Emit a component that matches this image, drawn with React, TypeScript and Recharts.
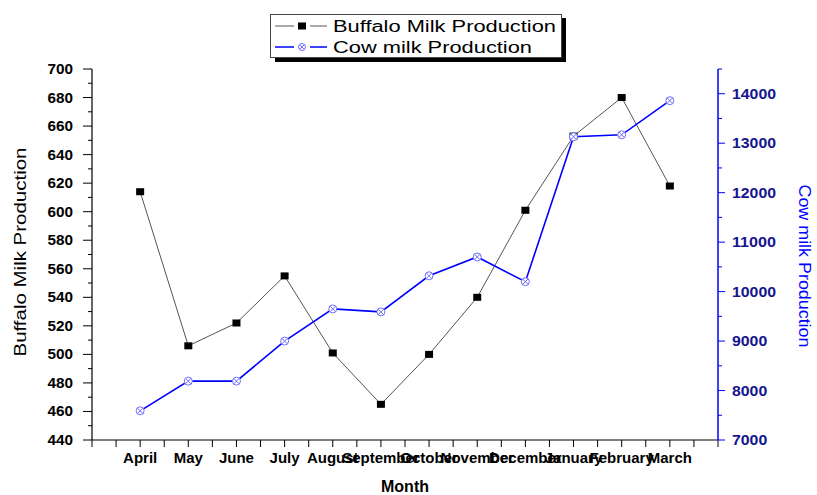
import React from 'react';
import { LineChart, Line, XAxis, YAxis } from 'recharts';

const months = ['April', 'May', 'June', 'July', 'August', 'September', 'October', 'November', 'December', 'January', 'February', 'March'];
const monthPositions = [1, 2, 3, 4, 5, 6, 7, 8, 9, 10, 11, 12];
const buffaloMilk = [614, 506, 522, 555, 501, 465, 500, 540, 601, 653, 680, 618];
const cowMilk = [7590, 8190, 8190, 9000, 9650, 9590, 10320, 10700, 10200, 13130, 13170, 13860];

const leftTicks = [440, 450, 460, 470, 480, 490, 500, 510, 520, 530, 540, 550, 560, 570, 580, 590, 600, 610, 620, 630, 640, 650, 660, 670, 680, 690, 700];
const rightTicks = [7000, 7500, 8000, 8500, 9000, 9500, 10000, 10500, 11000, 11500, 12000, 12500, 13000, 13500, 14000, 14500];
const xTicks = [0, 0.5, 1, 1.5, 2, 2.5, 3, 3.5, 4, 4.5, 5, 5.5, 6, 6.5, 7, 7.5, 8, 8.5, 9, 9.5, 10, 10.5, 11, 11.5, 12, 12.5, 13];

const data = monthPositions.map((x, i) => ({ x, month: months[i], buffalo: buffaloMilk[i], cow: cowMilk[i] }));

const FONT = '"Liberation Sans", Arial, sans-serif';
const BLUE = '#0000ff';
const COW_MARK = '#6f6fff';
const BUF_LINE = '#555555';

const LeftTick = (props: any) => {
  const { x, y, payload } = props;
  const v = payload.value;
  const major = v % 20 === 0;
  const s = String(v);
  return (
    <g>
      <line x1={x} x2={x - (major ? 9 : 4)} y1={y} y2={y} stroke="#000" strokeWidth={1} />
      {major && (
        <text x={x - 19} y={y} dy={5} textAnchor="end" fontFamily={FONT} fontWeight="bold" fontSize={14} fill="#000" textLength={s.length * 8.5} lengthAdjust="spacingAndGlyphs">
          {s}
        </text>
      )}
    </g>
  );
};

const RightTick = (props: any) => {
  const { x, y, payload } = props;
  const v = payload.value;
  const major = v % 1000 === 0;
  const s = String(v);
  if (v > 14000 && !major) {
    return <g><line x1={x} x2={x + 4} y1={y} y2={y} stroke={BLUE} strokeWidth={1} /></g>;
  }
  return (
    <g>
      <line x1={x} x2={x + (major ? 7 : 4)} y1={y} y2={y} stroke={BLUE} strokeWidth={1} />
      {major && (
        <text x={x + 14} y={y} dy={5} textAnchor="start" fontFamily={FONT} fontWeight="bold" fontSize={14} fill="#15158f" textLength={s.length * 8.8} lengthAdjust="spacingAndGlyphs">
          {s}
        </text>
      )}
    </g>
  );
};

const BottomTick = (props: any) => {
  const { x, y, payload } = props;
  const v = payload.value;
  const idx = monthPositions.indexOf(v);
  return (
    <g>
      <line x1={x} x2={x} y1={y} y2={y + 7} stroke="#000" strokeWidth={1} />
      {idx >= 0 && (
        <text x={x} y={y + 23} textAnchor="middle" fontFamily={FONT} fontWeight="bold" fontSize={15} fill="#000">
          {months[idx]}
        </text>
      )}
    </g>
  );
};

const TopTick = (props: any) => {
  const { x, y, payload } = props;
  const v = payload.value;
  if (v === 0 || v === 13) return <g />;
  return (
    <g>
      <line x1={x} x2={x} y1={y} y2={y + 4} stroke="#000" strokeWidth={1} />
    </g>
  );
};

const BuffaloDot = (p: any) => (
  <rect key={`b-${p.index}`} x={p.cx - 4} y={p.cy - 3.5} width={8} height={7} fill="#000" />
);

const CowDot = (p: any) => (
  <g key={`c-${p.index}`}>
    <circle cx={p.cx} cy={p.cy} r={4} fill="#fff" stroke={COW_MARK} strokeWidth={1} />
    <line x1={p.cx - 2.8} y1={p.cy - 2.8} x2={p.cx + 2.8} y2={p.cy + 2.8} stroke={COW_MARK} strokeWidth={1} />
    <line x1={p.cx - 2.8} y1={p.cy + 2.8} x2={p.cx + 2.8} y2={p.cy - 2.8} stroke={COW_MARK} strokeWidth={1} />
  </g>
);

export default function App() {
  return (
    <div style={{ position: 'absolute', left: 0, top: 0, width: 817, height: 495, background: '#fff' }}>
      <LineChart width={817} height={495} data={data} margin={{ top: 69, right: 39, bottom: 15, left: 32 }}>
        <XAxis
          xAxisId="top"
          orientation="top"
          type="number"
          dataKey="x"
          domain={[0, 13]}
          ticks={xTicks}
          interval={0}
          height={0}
          tickSize={0}
          tickMargin={0}
          tickLine={false}
          tick={<TopTick />}
          axisLine={{ stroke: '#666', strokeWidth: 1.5 }}
          allowDataOverflow
        />
        <XAxis
          xAxisId="main"
          type="number"
          dataKey="x"
          domain={[0, 13]}
          ticks={xTicks}
          interval={0}
          height={40}
          tickSize={0}
          tickMargin={0}
          tickLine={false}
          tick={<BottomTick />}
          axisLine={{ stroke: '#000', strokeWidth: 1 }}
          allowDataOverflow
        />
        <YAxis
          yAxisId="left"
          orientation="left"
          type="number"
          domain={[440, 700]}
          ticks={leftTicks}
          interval={0}
          width={60}
          tickSize={0}
          tickMargin={0}
          tickLine={false}
          tick={<LeftTick />}
          axisLine={{ stroke: '#000', strokeWidth: 1.2 }}
          allowDataOverflow
        />
        <YAxis
          yAxisId="right"
          orientation="right"
          type="number"
          domain={[7000, 14500]}
          ticks={rightTicks}
          interval={0}
          width={60}
          tickSize={0}
          tickMargin={0}
          tickLine={false}
          tick={<RightTick />}
          axisLine={{ stroke: BLUE, strokeWidth: 1.5 }}
          allowDataOverflow
        />
        <Line
          xAxisId="main"
          yAxisId="left"
          type="linear"
          dataKey="buffalo"
          stroke={BUF_LINE}
          strokeWidth={1}
          dot={BuffaloDot}
          activeDot={false}
          isAnimationActive={false}
        />
        <Line
          xAxisId="main"
          yAxisId="right"
          type="linear"
          dataKey="cow"
          stroke={BLUE}
          strokeWidth={1.6}
          dot={CowDot}
          activeDot={false}
          isAnimationActive={false}
        />
      </LineChart>
      <svg width={817} height={495} style={{ position: 'absolute', left: 0, top: 0, pointerEvents: 'none' }}>
        {/* Legend */}
        <rect x={275} y={18} width={291} height={44} fill="#000" />
        <rect x={270.5} y={14.5} width={291} height={43} fill="#fff" stroke="#444" strokeWidth={1} />
        <line x1={275} x2={327} y1={26} y2={26} stroke={BUF_LINE} strokeWidth={1} />
        <rect x={294} y={21} width={16} height={10} fill="#fff" />
        <rect x={298} y={22.5} width={8} height={7} fill="#000" />
        <text x={333} y={32} fontFamily={FONT} fontSize={16} fill="#000" textLength={223} lengthAdjust="spacingAndGlyphs">Buffalo Milk Production</text>
        <line x1={275} x2={327} y1={47} y2={47} stroke={BLUE} strokeWidth={1.6} />
        <rect x={294} y={42} width={16} height={10} fill="#fff" />
        <circle cx={302} cy={47} r={3.5} fill="#fff" stroke={COW_MARK} strokeWidth={1} />
        <line x1={299.5} y1={44.5} x2={304.5} y2={49.5} stroke={COW_MARK} strokeWidth={1} />
        <line x1={299.5} y1={49.5} x2={304.5} y2={44.5} stroke={COW_MARK} strokeWidth={1} />
        <text x={333} y={53} fontFamily={FONT} fontSize={16} fill="#000" textLength={199} lengthAdjust="spacingAndGlyphs">Cow milk Production</text>
        {/* Axis titles */}
        <text x={0} y={0} transform="translate(26,252) rotate(-90)" textAnchor="middle" fontFamily={FONT} fontSize={17} fill="#000" textLength={209} lengthAdjust="spacingAndGlyphs">Buffalo Milk Production</text>
        <text x={0} y={0} transform="translate(799,266) rotate(90)" textAnchor="middle" fontFamily={FONT} fontSize={17} fill={BLUE} textLength={163} lengthAdjust="spacingAndGlyphs">Cow milk Production</text>
        <text x={405} y={492} textAnchor="middle" fontFamily={FONT} fontSize={16} fontWeight="bold" fill="#000">Month</text>
      </svg>
    </div>
  );
}
